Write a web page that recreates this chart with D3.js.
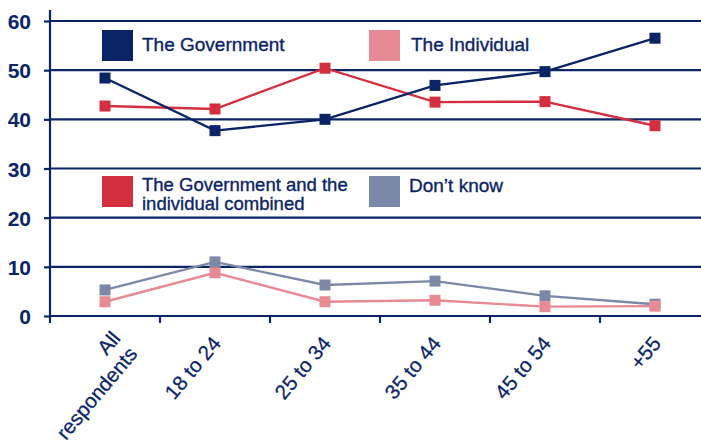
<!DOCTYPE html>
<html><head><meta charset="utf-8">
<script src="https://cdn.jsdelivr.net/npm/d3@7"></script>
<style>
html,body{margin:0;padding:0;background:#fff;}
svg{display:block;font-family:"Liberation Sans",Arial,Helvetica,sans-serif;}
</style></head>
<body><svg id="c" width="701" height="447"></svg>
<script>
const categories = ["All respondents","18 to 24","25 to 34","35 to 44","45 to 54","+55"];
const government = [48.4, 37.7, 40.0, 46.9, 49.7, 56.5];
const individual = [2.9, 8.8, 2.9, 3.2, 1.9, 2.0];
const combined = [42.7, 42.1, 50.4, 43.5, 43.6, 38.7];
const dontKnow = [5.3, 11.0, 6.3, 7.1, 4.1, 2.4];
const yTicks = [0,10,20,30,40,50,60];
const seriesNames = ["The Government","The Individual","The Government and the individual combined","Don\u2019t know"];

const navy = "#0b2466";
const colors = {gov:"#0b2466", ind:"#e68a93", comb:"#d42f3f", dk:"#7b88a8"};

const svg = d3.select("#c");
const x = d3.scaleBand().domain(categories).range([50, 710]).padding(0);
const y = d3.scaleLinear().domain([0,60]).range([316, 21]);

// gridlines
svg.append("g").selectAll("line").data(yTicks).join("line")
  .attr("x1",50).attr("x2",701).attr("y1",d=>y(d)).attr("y2",d=>y(d))
  .attr("stroke",navy).attr("stroke-width",2.2);

// y axis
const yAxis = d3.axisLeft(y).tickValues(yTicks).tickSize(6).tickPadding(13);
const gy = svg.append("g").attr("transform","translate(50,0)").call(yAxis);
gy.select(".domain").remove();
gy.selectAll(".tick line").attr("stroke",navy).attr("stroke-width",2.2);
gy.selectAll(".tick text").attr("fill",navy).attr("font-size",21).attr("font-weight","bold")
  .attr("font-family","Liberation Sans, Arial, sans-serif").attr("dy","0.36em");
svg.append("line").attr("x1",50).attr("x2",50).attr("y1",10).attr("y2",323).attr("stroke",navy).attr("stroke-width",2.2);

// x ticks at band boundaries
const bounds = categories.map(c=>x(c)).slice(1);
svg.append("g").selectAll("line").data(bounds).join("line")
  .attr("x1",d=>d).attr("x2",d=>d).attr("y1",316).attr("y2",323)
  .attr("stroke",navy).attr("stroke-width",2.2);

// x labels
const xl = svg.append("g");
categories.forEach(c=>{
  const cx = x(c)+x.bandwidth()/2;
  const g = xl.append("g").attr("transform",`translate(${cx+7},${344}) rotate(-50)`);
  const t = g.append("text").attr("text-anchor","end").attr("fill",navy).attr("font-size",20.5)
    .attr("stroke",navy).attr("stroke-width",0.25);
  if (c === "All respondents") {
    t.append("tspan").attr("x",10).attr("y",4).text("All");
    t.append("tspan").attr("x",9).attr("y",27).text("respondents");
  } else {
    t.append("tspan").attr("x",0).attr("y",0).text(c);
  }
});

function drawSeries(vals,col){
  const pts = vals.map((v,i)=>[x(categories[i])+x.bandwidth()/2, y(v)]);
  svg.append("path").attr("d",d3.line()(pts)).attr("fill","none").attr("stroke",col).attr("stroke-width",2.4);
  svg.append("g").selectAll("rect").data(pts).join("rect")
    .attr("x",d=>d[0]-5.5).attr("y",d=>d[1]-5.5).attr("width",11).attr("height",11).attr("fill",col);
}
drawSeries(dontKnow, colors.dk);
drawSeries(individual, colors.ind);
drawSeries(combined, colors.comb);
drawSeries(government, colors.gov);

// legend
const legend = [
  {c:colors.gov, x:102, y:30, tx:142, lines:["The Government"]},
  {c:colors.ind, x:369, y:30, tx:411, lines:["The Individual"]},
  {c:colors.comb, x:102, y:176, tx:142, lines:["The Government and the","individual combined"]},
  {c:colors.dk, x:369, y:176, tx:409, lines:["Don\u2019t know"]}
];
legend.forEach(l=>{
  svg.append("rect").attr("x",l.x).attr("y",l.y).attr("width",31).attr("height",31).attr("fill",l.c);
  if (l.lines.length===1) {
    svg.append("text").attr("fill",navy).attr("font-size",19)
      .attr("stroke",navy).attr("stroke-width",0.35)
      .attr("x",l.tx).attr("y",l.y + (l.y>100?16:21)).text(l.lines[0]);
  } else {
    l.lines.forEach((ln,i)=>{
      svg.append("text").attr("fill",navy).attr("font-size",18.5)
        .attr("stroke",navy).attr("stroke-width",0.35)
        .attr("x",l.tx).attr("y",l.y+14.5+i*19.5).text(ln);
    });
  }
});
</script></body></html>
